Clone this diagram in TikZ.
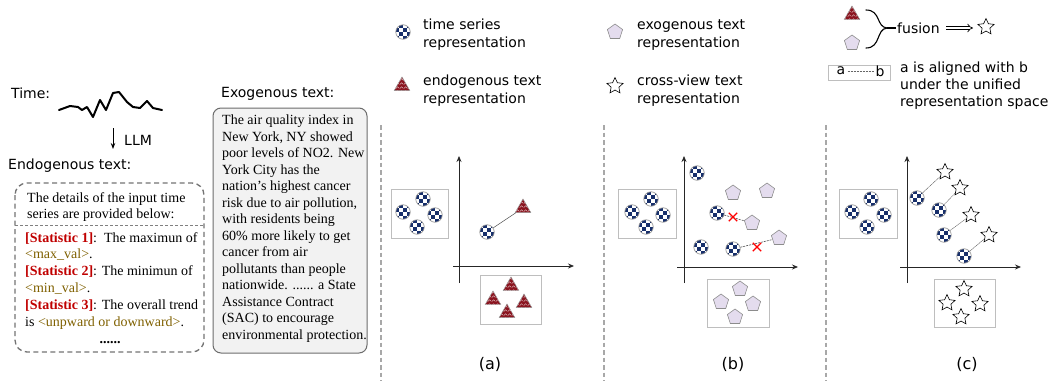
\documentclass[tikz,border=0pt]{standalone}
\usepackage{fontspec}
\setmainfont{Liberation Serif}
\newfontfamily\comic{DejaVu Sans}
\usetikzlibrary{shapes.geometric,shapes.misc,arrows.meta,patterns.meta}
\definecolor{cnavy}{HTML}{172F6B}
\definecolor{cred}{HTML}{8B1520}
\definecolor{cpent}{HTML}{E4DCEE}
\definecolor{cbox}{HTML}{BEBEBE}
\definecolor{csep}{HTML}{A8A8A8}
\definecolor{cstat}{HTML}{C00000}
\definecolor{cval}{HTML}{7F6000}
\definecolor{cexo}{HTML}{F2F2F2}
\tikzdeclarepattern{name=zigs,type=uncolored,bounding box={(0pt,0pt) and (4pt,3.6pt)},tile size={(4pt,3.6pt)},code={\draw[line width=0.35pt] (0pt,0.6pt) -- (2pt,2.4pt) -- (4pt,0.6pt);}}
\newcommand{\chk}{%
  \foreach \i in {-2,...,1}{\foreach \j in {-2,...,1}{%
    \pgfmathtruncatemacro{\chkpar}{mod(\i+\j+10,2)}%
    \ifnum\chkpar=0
      \fill[cnavy] ([shift={(\i*3.6pt,\j*3.6pt)}]path picture bounding box.center) rectangle ++(3.6pt,3.6pt);
    \fi}}}
\begin{document}
\begin{tikzpicture}[x=1pt,y=-1pt,
  ts/.style={circle,draw=gray!80,line width=0.7pt,minimum size=14.5,inner sep=0,fill=white,path picture={\chk}},
  en/.style={regular polygon,regular polygon sides=3,draw=gray!80,line width=0.5pt,minimum size=18,inner sep=0,fill=cred,postaction={pattern=zigs,pattern color=white!85!cred}},
  ex/.style={regular polygon,regular polygon sides=5,draw=gray!90,line width=0.6pt,minimum size=16,inner sep=0,fill=cpent},
  cv/.style={star,star points=5,star point ratio=2.1,draw=black,line width=0.6pt,minimum size=17,inner sep=0,fill=white},
  grp/.style={draw=cbox,line width=1pt,inner sep=0},
  lbl/.style={font=\comic\fontsize{14}{18}\selectfont,align=left,anchor=west,inner sep=0},
  plab/.style={font=\comic\fontsize{16}{18}\selectfont,inner sep=0},
  sep/.style={draw=csep,line width=1.1pt,dash pattern=on 4.5pt off 3pt},
  axis/.style={draw=black!85,line width=0.8pt,-{Stealth[length=6,width=5]}},
  serif/.style={font=\fontsize{14}{16.5}\selectfont,align=left,anchor=north west,inner sep=0},
  xmark/.style={cross out,draw=red,line width=1.3pt,minimum size=7,inner sep=0},
  pairA/.style={draw=black!70,line width=0.5pt},
  pairB/.style={draw=black!70,line width=0.6pt,dash pattern=on 2pt off 1pt},
  pairC/.style={draw=black!60,line width=0.45pt,dash pattern=on 1.5pt off 0.5pt}]
\useasboundingbox (0,0) rectangle (1060,381);

% ---------- left part ----------
\node[lbl] (timelbl) at (11,93) {Time:};
\draw[line width=2pt,line join=round,line cap=round] (59,110) -- (70,106) -- (78,107) -- (82,110) -- (87,107) -- (93,117) -- (100,100) -- (106,110) -- (113,93) -- (119,92) -- (127,102) -- (133,107) -- (140,108) -- (147,101) -- (153,108) -- (162,110);
\coordinate (llm0) at (113,128);
\coordinate (llm1) at (113,149);
\draw[line width=1pt,-{Stealth[length=6,width=4.5]}] (llm0) -- (llm1);
\node[lbl] (llm) at (124,140) {LLM};
\node[lbl] (endolbl) at (8,166) {Endogenous text:};

\draw[draw=gray!90!black,line width=1.3pt,dash pattern=on 5pt off 3.5pt,rounded corners=12] (15,183) rectangle (204,352);
\coordinate (dl0) at (15,225);
\coordinate (dl1) at (204,225);
\draw[draw=gray,line width=0.7pt,dash pattern=on 3pt off 2pt] (dl0) -- (dl1);
\node[serif] (endo1) at (27,192) {The details of the input time\\series are provided below:};
\node[serif,font=\fontsize{14}{16.8}\selectfont] (endo2) at (25,232) {\textcolor{cstat}{\textbf{[Statistic 1]}}:\ \ The maximun of\\
\textcolor{cval}{<max\_val>}.\\
\textcolor{cstat}{\textbf{[Statistic 2]}}: The minimun of\\
\textcolor{cval}{<min\_val>}.\\
\textcolor{cstat}{\textbf{[Statistic 3]}}: The overall trend\\
is \textcolor{cval}{<unpward or downward>}.};
\node[font=\fontsize{14}{16}\selectfont\bfseries,inner sep=0,anchor=base] (dots) at (110,343) {......};

\node[lbl] (exolbl) at (221,94) {Exogenous text:};
\draw[draw=gray!85!black,fill=cexo,line width=1pt,rounded corners=8] (213,108) rectangle (367,353);
\node[serif] (exo) at (222,115) {The air quality index in\\
New York, NY showed\\
poor levels of NO2. New\\
York City has the\\
nation's highest cancer\\
risk due to air pollution,\\
with residents being\\
60\% more likely to get\\
cancer from air\\
pollutants than people\\
nationwide. ...... a State\\
Assistance Contract\\
(SAC) to encourage\\
environmental protection.};

% ---------- separators ----------
\foreach \sx [count=\k] in {381,604,826}{
  \coordinate (s\k t) at (\sx,125);
  \coordinate (s\k b) at (\sx,381);
  \draw[sep] (s\k t) -- (s\k b);
}

% ---------- panel (a) ----------
\node[ts] (legts) at (403,32) {};
\node[lbl] (legtstxt) at (423,35) {time series\\representation};
\node[en] (legen) at (402,86) {};
\node[lbl] (legentxt) at (423,91) {endogenous text\\representation};

\node[grp,minimum width=57,minimum height=49] (aboxl) at (419.5,213.5) {};
\node[ts] (al1) at (423,199) {};
\node[ts] (al2) at (403,212) {};
\node[ts] (al3) at (435,215) {};
\node[ts] (al4) at (417,227) {};
\node[grp,minimum width=61,minimum height=49] (aboxb) at (510.5,299.5) {};
\node[en] (ab1) at (511,286) {};
\node[en] (ab2) at (493,300) {};
\node[en] (ab3) at (524,303) {};
\node[en] (ab4) at (507,313) {};
\coordinate (ay0) at (459,283); \coordinate (ay1) at (459,156);
\coordinate (ax0) at (453,266); \coordinate (ax1) at (574,266);
\draw[axis] (ay0) -- (ay1);
\draw[axis] (ax0) -- (ax1);
\node[ts] (ap1) at (487,232) {};
\node[en] (ap2) at (523,208) {};
\draw[pairA] (ap1) -- (ap2);
\node[plab] (la) at (490,364) {(a)};

% ---------- panel (b) ----------
\node[ex] (legex) at (615,32) {};
\node[lbl] (legextxt) at (637,35) {exogenous text\\representation};
\node[cv] (legcv) at (615,86) {};
\node[lbl] (legcvtxt) at (637,91) {cross-view text\\representation};

\node[grp,minimum width=58,minimum height=49] (bboxl) at (647,213.5) {};
\node[ts] (bl1) at (651,199) {};
\node[ts] (bl2) at (632,212) {};
\node[ts] (bl3) at (663,215) {};
\node[ts] (bl4) at (646,227) {};
\node[grp,minimum width=62,minimum height=48] (bboxb) at (738,303) {};
\node[ex] (bb1) at (740,289) {};
\node[ex] (bb2) at (721,302) {};
\node[ex] (bb3) at (753,304) {};
\node[ex] (bb4) at (735,317) {};
\coordinate (by0) at (684,283); \coordinate (by1) at (684,156);
\coordinate (bx0) at (677,267); \coordinate (bx1) at (798,267);
\draw[axis] (by0) -- (by1);
\draw[axis] (bx0) -- (bx1);
\node[ts] (bi1) at (697,173) {};
\node[ex] (bi2) at (733,193) {};
\node[ex] (bi3) at (767,191) {};
\node[ts] (bi4) at (717,213) {};
\node[ex] (bi5) at (752,223) {};
\node[ts] (bi6) at (701,247) {};
\node[ts] (bi7) at (733,249) {};
\node[ex] (bi8) at (779,238) {};
\draw[pairB] (bi4) -- (bi5);
\draw[pairB] (bi7) -- (bi8);
\node[xmark] (bx1m) at (733,217) {};
\node[xmark] (bx2m) at (757,247) {};
\node[plab] (lb) at (733,364) {(b)};

% ---------- panel (c) ----------
\node[en] (fen) at (852,15) {};
\node[ex] (fex) at (852,43) {};
\coordinate (brt) at (866,10);
\coordinate (brb) at (866,48);
\coordinate (brm) at (887,28);
\coordinate (bre) at (896,28);
\draw[line width=1.1pt,line cap=round] (brt) .. controls (881,10) and (876,27) .. (brm);
\draw[line width=1.1pt,line cap=round] (brb) .. controls (881,48) and (876,29) .. (brm);
\draw[line width=1.1pt] (brm) -- (bre);
\node[lbl] (fusion) at (897,28) {fusion};
\coordinate (fa0) at (946,28);
\coordinate (fa1) at (973,28);
\draw[double,double distance=2.2pt,line width=0.7pt,-{Implies}] (fa0) -- (fa1);
\node[cv] (fcv) at (986,27) {};

\draw[draw=cbox,line width=1pt] (828,65) rectangle (890,80);
\node[font=\comic\fontsize{14}{16}\selectfont,inner sep=0] (na) at (841,71) {a};
\node[font=\comic\fontsize{14}{16}\selectfont,inner sep=0] (nb) at (880,71) {b};
\draw[draw=black!60,line width=0.5pt,dash pattern=on 1pt off 0.5pt] ([xshift=2]na.east) -- ([xshift=-2]nb.west);
\node[lbl,font=\comic\fontsize{14}{17}\selectfont] (aligntxt) at (900,86) {a is aligned with b\\under the unified\\representation space};

\node[grp,minimum width=58,minimum height=49] (cboxl) at (868,213.5) {};
\node[ts] (cl1) at (871,199) {};
\node[ts] (cl2) at (852,212) {};
\node[ts] (cl3) at (884,215) {};
\node[ts] (cl4) at (867,227) {};
\node[grp,minimum width=61,minimum height=48] (cboxb) at (964.5,303) {};
\node[cv] (cb1) at (964,289) {};
\node[cv] (cb2) at (947,303) {};
\node[cv] (cb3) at (980,304) {};
\node[cv] (cb4) at (961,317) {};
\coordinate (cy0) at (907,283); \coordinate (cy1) at (907,156);
\coordinate (cx0) at (900,267); \coordinate (cx1) at (1021,267);
\draw[axis] (cy0) -- (cy1);
\draw[axis] (cx0) -- (cx1);
\node[ts] (cp1) at (917,198) {};
\node[cv] (cs1) at (945,172) {};
\node[ts] (cp2) at (939,210) {};
\node[cv] (cs2) at (960,188) {};
\node[ts] (cp3) at (944,235) {};
\node[cv] (cs3) at (971,215) {};
\node[ts] (cp4) at (964,256) {};
\node[cv] (cs4) at (989,235) {};
\draw[pairC] (cp1) -- (cs1);
\draw[pairC] (cp2) -- (cs2);
\draw[pairC] (cp3) -- (cs3);
\draw[pairC] (cp4) -- (cs4);
\node[plab] (lc) at (967,364) {(c)};
\end{tikzpicture}
\end{document}
